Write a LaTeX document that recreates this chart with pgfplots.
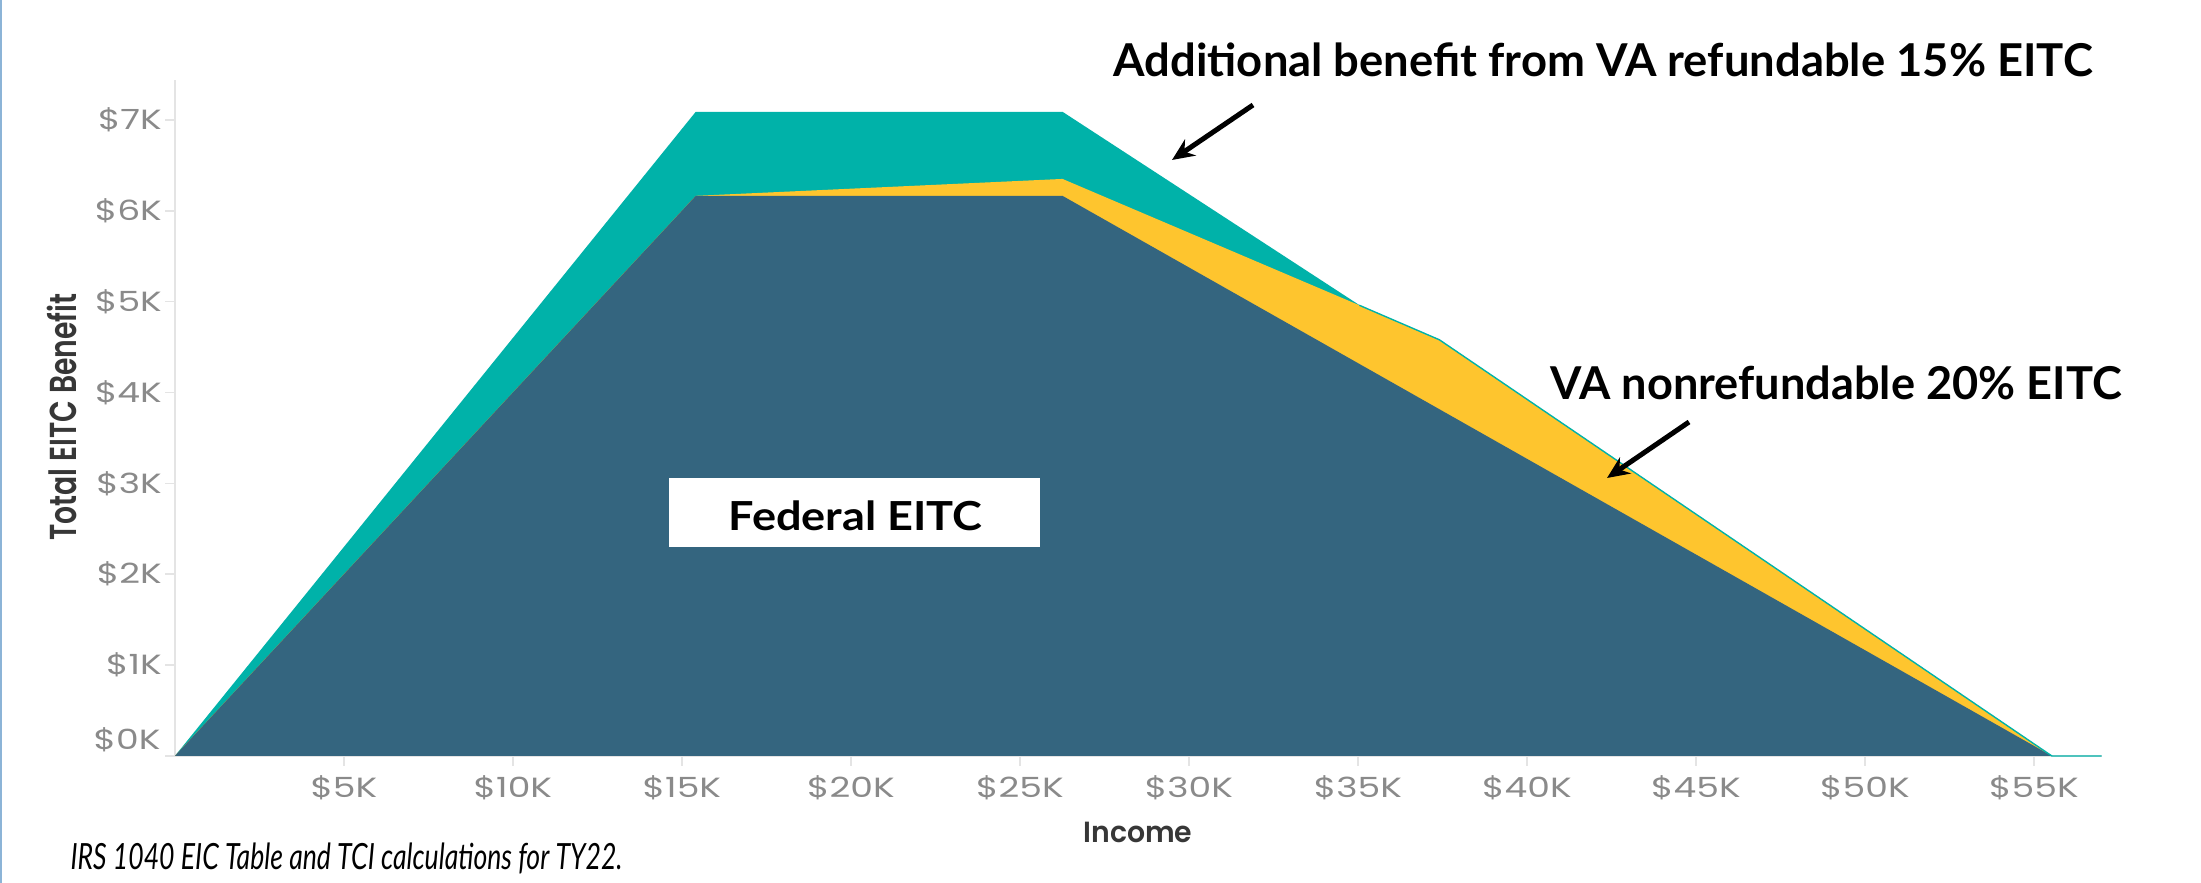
\documentclass[border=0pt]{standalone}
\usepackage{pgfplots}
\pgfplotsset{compat=1.18}
\usepackage{fontspec}
\usetikzlibrary{arrows.meta}
\setmainfont{Lato}
\newfontfamily\pop{Poppins}
\newfontfamily\popsb{Poppins SemiBold}
\definecolor{fedblue}{RGB}{52,101,127}
\definecolor{vateal}{RGB}{0,178,169}
\definecolor{vayellow}{RGB}{254,197,46}
\definecolor{tickgray}{RGB}{138,138,138}
\definecolor{axgray}{RGB}{228,228,228}
\definecolor{labgray}{RGB}{55,55,55}
\definecolor{frameblue}{RGB}{140,180,215}
\newcommand{\tk}[1]{\scalebox{1.3}[1]{#1}}

\begin{document}
\begin{tikzpicture}
\useasboundingbox (0,0) rectangle (792.36pt,317.88pt);
\fill[white] (0,0) rectangle (792.36pt,317.88pt);

\begin{axis}[
    at={(62.96pt,45.72pt)}, anchor=south west,
    scale only axis, width=693.6pt, height=243.4pt,
    xmin=0, xmax=57, ymin=0, ymax=7.44,
    axis x line=bottom, axis y line=left,
    axis line style={axgray, line width=0.6pt, -},
    tick align=outside, major tick length=3.5pt,
    tick style={axgray, line width=0.6pt},
    xtick={5,10,...,55},
    xticklabels={\tk{\$5K},\tk{\$10K},\tk{\$15K},\tk{\$20K},\tk{\$25K},\tk{\$30K},
                 \tk{\$35K},\tk{\$40K},\tk{\$45K},\tk{\$50K},\tk{\$55K}},
    ytick={1,2,...,7},
    yticklabels={\tk{\$1K},\tk{\$2K},\tk{\$3K},\tk{\$4K},\tk{\$5K},\tk{\$6K},\tk{\$7K}},
    extra y ticks={0}, extra y tick labels={},
    ticklabel style={font=\pop\fontsize{10}{11}\selectfont, text=tickgray},
    yticklabel style={inner sep=1pt},
    clip=false,
]
% refundable 15% (federal x 1.15)
\addplot[draw=none, fill=vateal] coordinates {
    (0,0)(15.41,7.089)(26.26,7.089)(55.53,0)} \closedcycle;
% nonrefundable 20%
\addplot[draw=none, fill=vayellow] coordinates {
    (0,0)(15.41,6.164)(26.26,6.35)(35.04,4.96)(37.41,4.58)(55.53,0)} \closedcycle;
% federal EITC
\addplot[draw=none, fill=fedblue] coordinates {
    (0,0)(15.41,6.164)(26.26,6.164)(55.53,0)} \closedcycle;
% zero-height teal layer along the top
\addplot[vateal, line width=0.5pt] coordinates {
    (35.04,4.96)(37.41,4.58)(55.53,0)(57,0)};
\end{axis}

\begin{scope}[x=0.36pt, y=-0.36pt, yshift=317.88pt]
\draw[frameblue, line width=0.8pt] (1,0) -- (1,883);
\node[anchor=east, inner sep=0, text=tickgray, font=\pop\fontsize{10}{11}\selectfont] at (161,740) {\tk{\$0K}};

\node[anchor=base west, inner sep=0] at (1113,77)
  {\resizebox{352.4pt}{\height}{\fontsize{16.3}{19}\selectfont\bfseries Additional benefit from VA refundable 15\% EITC}};
\node[anchor=base west, inner sep=0] at (1550,400)
  {\resizebox{205.6pt}{\height}{\fontsize{16.3}{19}\selectfont\bfseries VA nonrefundable 20\% EITC}};

\draw[line width=1.8pt, -{Stealth[length=8pt, width=7pt]}] (1253,105) -- (1172,160);
\draw[line width=1.8pt, -{Stealth[length=8pt, width=7pt]}] (1689,422) -- (1607,478);

\fill[white] (669,478) rectangle (1040,547);
\node[anchor=base west, inner sep=0] at (728,531)
  {\resizebox{91.4pt}{\height}{\fontsize{14.4}{17}\selectfont\bfseries Federal EITC}};

\node[rotate=90, inner sep=0, text=labgray] at (62,417)
  {\resizebox{88.9pt}{\height}{\popsb\fontsize{13.5}{15}\selectfont Total EITC Benefit}};
\node[inner sep=0, text=labgray] at (1138,832)
  {\resizebox{39.2pt}{\height}{\popsb\fontsize{10.5}{12}\selectfont Income}};

\node[anchor=base west, inner sep=0] at (70,870)
  {\resizebox{198.7pt}{\height}{\fontsize{13}{15}\selectfont\itshape IRS 1040 EIC Table and TCI calculations for TY22.}};
\end{scope}
\end{tikzpicture}
\end{document}
